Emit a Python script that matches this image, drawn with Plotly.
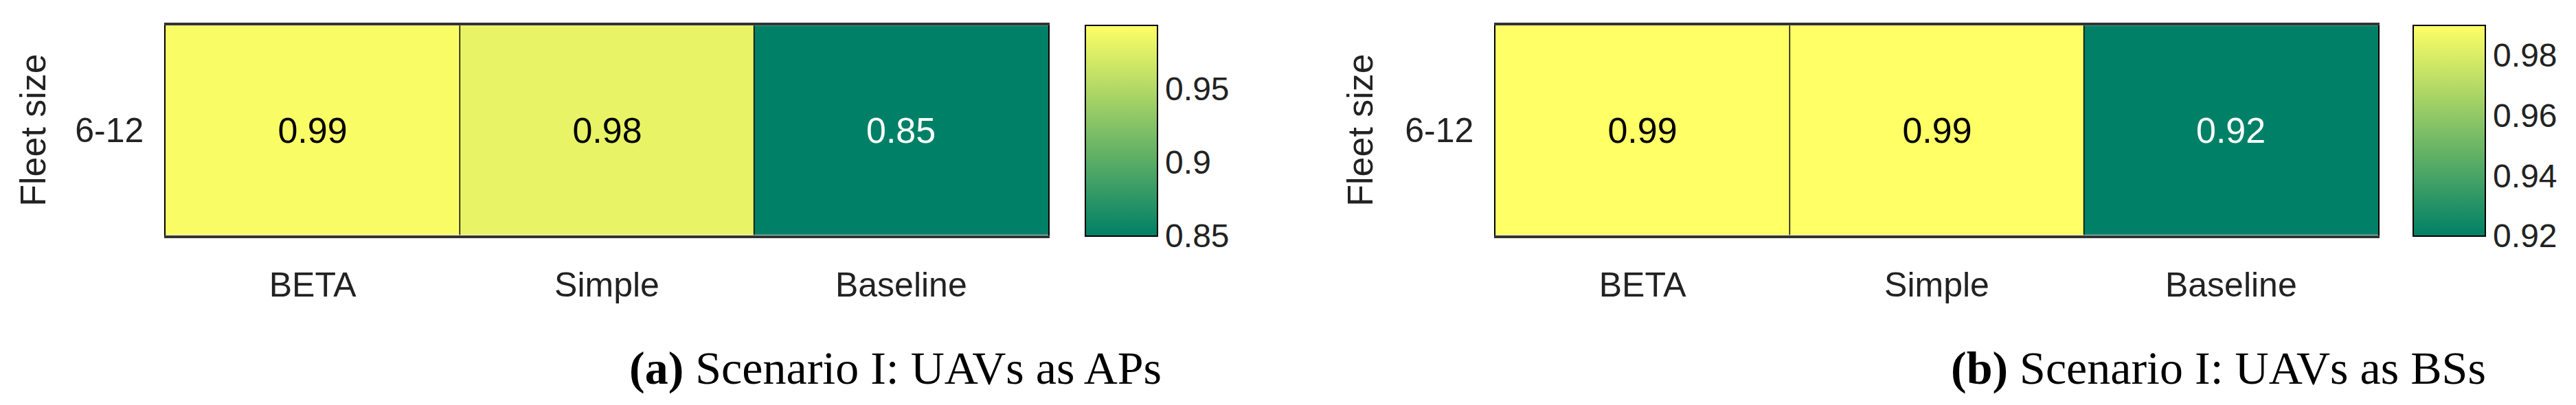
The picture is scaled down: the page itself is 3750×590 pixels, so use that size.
import plotly.graph_objects as go

methods = ["BETA", "Simple", "Baseline"]
fleet = ["6-12"]
vals_a = [0.99, 0.98, 0.85]
vals_b = [0.99, 0.99, 0.92]
ticks_a = [0.85, 0.9, 0.95]
ticks_b = [0.92, 0.94, 0.96, 0.98]
captions = ["<b>(a)</b> Scenario I: UAVs as APs", "<b>(b)</b> Scenario I: UAVs as BSs"]

W, H = 3750, 590
scale = [[0, "rgb(0,128,102)"], [1, "rgb(255,255,102)"]]
fig = go.Figure()

panels = [
    dict(vals=vals_a, ticks=ticks_a, zr=(0.85, 0.993), x0=233, x1=1518, cb=1572, cap=906, yl=40),
    dict(vals=vals_b, ticks=ticks_b, zr=(0.92, 0.99), x0=2169, x1=3454, cb=3505, cap=2830, yl=1972),
]
top, bot = 28.5, 335
for i, p in enumerate(panels):
    n = "" if i == 0 else "2"
    zmin, zmax = p["zr"]
    txtcol = ["black" if (v - zmin) / (zmax - zmin) > 0.5 else "white" for v in p["vals"]]
    fig.add_trace(go.Heatmap(
        z=[p["vals"]], x=methods, y=fleet, colorscale=scale, zmin=zmin, zmax=zmax,
        text=[[f"{v:.2f}" for v in p["vals"]]], texttemplate="%{text}",
        textfont=dict(size=52, family="Liberation Sans", color="black"),
        xaxis="x" + n, yaxis="y" + n, hoverinfo="skip",
        colorbar=dict(x=p["cb"] / W, xanchor="left", y=1 - top / H, yanchor="top",
                      len=bot - top, lenmode="pixels", thickness=105, thicknessmode="pixels",
                      outlinewidth=2, outlinecolor="black", tickvals=p["ticks"],
                      ticks="", tickfont=dict(size=48, family="Liberation Sans", color="#222"),
                      xpad=0, ypad=0)))
    for j, (m, v) in enumerate(zip(methods, p["vals"])):
        if txtcol[j] == "white":
            fig.add_annotation(x=m, y=fleet[0], xref="x" + n, yref="y" + n, text=f"{v:.2f}",
                               showarrow=False, font=dict(size=52, family="Liberation Sans", color="white"),
                               bgcolor="rgb(0,128,102)")
    for b in [0.5, 1.5]:
        fig.add_shape(type="line", x0=b, x1=b, y0=-0.5, y1=0.5, xref="x" + n, yref="y" + n,
                      line=dict(color="black", width=1.5))
    fig.layout["xaxis" + n] = dict(domain=[p["x0"] / W, p["x1"] / W], anchor="y" + n,
                                   showline=True, mirror=True, linewidth=4, linecolor="#333",
                                   ticks="", tickfont=dict(size=50, family="Liberation Sans", color="#222"),
                                   ticklabelstandoff=25)
    fig.layout["yaxis" + n] = dict(domain=[1 - bot / H, 1 - top / H], anchor="x" + n,
                                   showline=True, mirror=True, linewidth=1.5, linecolor="black",
                                   ticks="", tickfont=dict(size=50, family="Liberation Sans", color="#222"),
                                   ticklabelstandoff=20)
    fig.add_annotation(x=p["yl"] / W, y=1 - (top + bot) / 2 / H, xref="paper", yref="paper",
                       xanchor="center", yanchor="middle",
                       text="Fleet size", textangle=-90, showarrow=False,
                       font=dict(size=52, family="Liberation Sans", color="#222"))
    fig.add_annotation(x=p["cap"] / W, y=1 - 528 / H, xref="paper", yref="paper",
                       xanchor="left", yanchor="middle",
                       text=captions[i], showarrow=False,
                       font=dict(size=68, family="Liberation Serif", color="black"))

fig.update_layout(width=W, height=H, margin=dict(l=0, r=0, t=0, b=0),
                  paper_bgcolor="white", plot_bgcolor="white", showlegend=False)
fig.write_html("out.html")
